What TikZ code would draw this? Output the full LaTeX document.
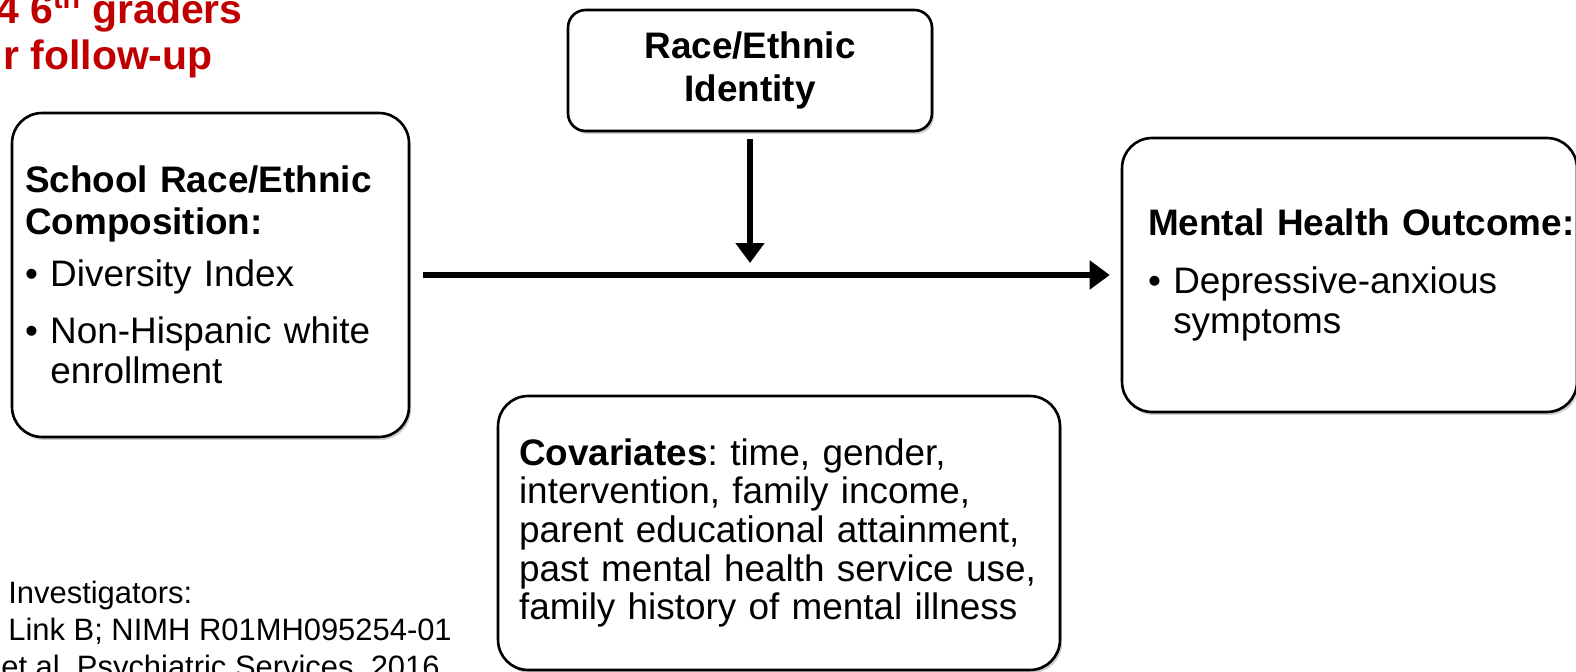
\documentclass[tikz,border=0pt]{standalone}
\usepackage{fontspec}
\setmainfont{Liberation Sans}
\usetikzlibrary{arrows.meta,shadows}
\definecolor{titlered}{RGB}{192,0,0}
\frenchspacing
\tikzset{
  box/.style={draw, line width=1.5pt, rounded corners=0.6cm, fill=white, align=left,
    drop shadow={shadow xshift=0.04cm, shadow yshift=-0.06cm, opacity=0.2, fill=black}},
  body/.style={font=\fontsize{21}{23}\selectfont},
  link/.style={line width=2.9pt, -{Triangle[width=0.56cm,length=0.4cm]}},
  credit/.style={anchor=base west, inner sep=0, font=\fontsize{17.6}{21}\selectfont},
  heading/.style={anchor=base east, inner sep=0, text=titlered, font=\fontsize{23.3}{26}\selectfont\bfseries}
}
\begin{document}
\begin{tikzpicture}[x=0.02cm, y=-0.02cm]
\useasboundingbox (0,0) rectangle (1576,672);
% title, cut by the page
\node[heading] (grade) at (243,24) {4 6\textsuperscript{th} graders};
\node[heading] (follow) at (213,70) {r follow-up};
% boxes
\node[box, body, minimum width=7.94cm, minimum height=6.48cm, text width=7.42cm, inner xsep=0.26cm] (school) at (210.5,275)
  {\textbf{School Race/Ethnic}\\[0.9pt] \textbf{Composition:}\\[6.6pt] \textbullet\ Diversity Index\\[9.4pt] \textbullet\ Non-Hispanic white\\ \phantom{\textbullet\ }enrollment};
\node[box, minimum width=7.28cm, minimum height=2.42cm, rounded corners=0.35cm, align=center, font=\fontsize{21}{24}\selectfont\bfseries] (race) at (750,70.5)
  {Race/Ethnic\\Identity};
\node[box, body, minimum width=9.1cm, minimum height=5.48cm, text width=8.06cm, inner xsep=0.52cm] (outcome) at (1349.5,275)
  {\mbox{\bfseries Mental Health Outcome:}\\[10pt] \textbullet\ Depressive-anxious\\ \phantom{\textbullet\ }symptoms};
\node[box, font=\fontsize{21}{22}\selectfont, minimum width=11.24cm, minimum height=5.48cm, text width=10.4cm, inner xsep=0.42cm] (covar) at (779,533)
  {\textbf{Covariates}: time, gender,\\ intervention, family income,\\ parent educational attainment,\\ past mental health service use,\\ family history of mental illness};
% arrows
\coordinate (join) at (750,274);
\draw[link, shorten <=0.26cm, shorten >=0.22cm] (school) -- (outcome);
\draw[link, shorten <=0.14cm, shorten >=0.22cm] (race) -- (join);
% credits
\node[credit] (invest) at (8,603) {Investigators:};
\node[credit] (grant) at (8,640) {Link B; NIMH R01MH095254-01};
\node[credit] (cite) at (1,677) {et al. Psychiatric Services, 2016};
\end{tikzpicture}
\end{document}
